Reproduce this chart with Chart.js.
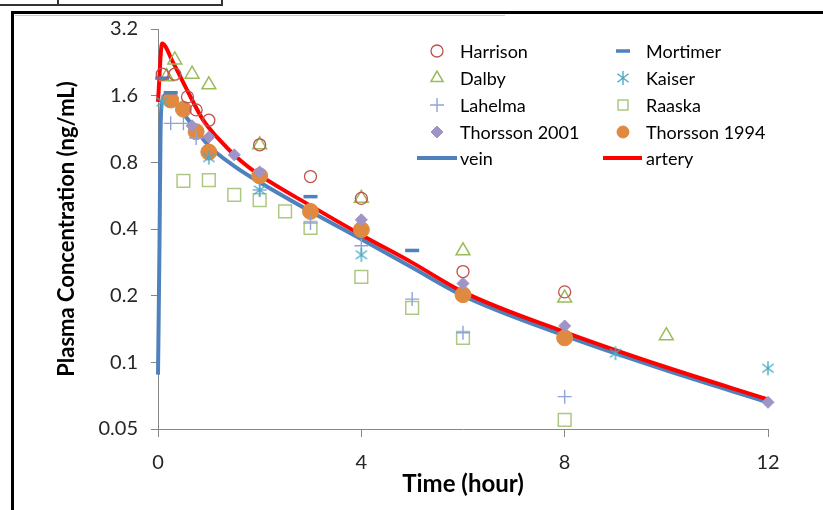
<!DOCTYPE html>
<html>
<head>
<meta charset="utf-8">
<script src="https://cdn.jsdelivr.net/npm/chart.js@4.4.0/dist/chart.umd.min.js"></script>
<style>
  html, body { margin: 0; padding: 0; background: #fff; }
  #wrap { position: relative; width: 823px; height: 510px; overflow: hidden; }
  #wrap canvas { position: absolute; left: 0; top: 0; }
  .ln { position: absolute; background: #000; }
</style>
</head>
<body>
<div id="wrap">
  <div class="ln" style="left:0;top:4px;width:223px;height:2px;background:#333"></div>
  <div class="ln" style="left:57px;top:0;width:2px;height:6px;background:#333"></div>
  <div class="ln" style="left:221px;top:0;width:2px;height:6px;background:#333"></div>
  <div class="ln" style="left:11px;top:11px;width:812px;height:3px"></div>
  <div class="ln" style="left:11px;top:11px;width:3px;height:499px"></div>
  <div class="ln" style="left:15px;top:15px;width:490px;height:1px;background:#ccc"></div>
  <canvas id="chart" width="823" height="510"></canvas>
</div>
<script>
// axis ticks
const timeTicks = [0, 4, 8, 12];
const concTicks = [0.05, 0.1, 0.2, 0.4, 0.8, 1.6, 3.2];

// observed data (time in hours, concentration in ng/mL)
const harrisonTime = [0.083, 0.33, 0.58, 0.75, 1, 2, 3, 4, 6, 8];
const harrisonConc = [2.0, 2.0, 1.58, 1.38, 1.24, 0.96, 0.69, 0.55, 0.257, 0.208];

const mortimerTime = [0.083, 0.25, 3, 5];
const mortimerConc = [1.92, 1.65, 0.56, 0.32];

const dalbyTime = [0.17, 0.33, 0.67, 1, 2, 4, 6, 8, 10];
const dalbyConc = [1.95, 2.32, 2.0, 1.79, 0.96, 0.55, 0.319, 0.195, 0.132];

const kaiserTime = [0.083, 1, 2, 4, 9, 12];
const kaiserConc = [1.5, 0.84, 0.60, 0.306, 0.11, 0.094];

const lahelmaTime = [0.25, 0.5, 0.75, 2, 3, 4, 5, 6, 8];
const lahelmaConc = [1.2, 1.2, 1.03, 0.6, 0.426, 0.336, 0.193, 0.136, 0.07];

const raaskaTime = [0.5, 1, 1.5, 2, 2.5, 3, 4, 5, 6, 8];
const raaskaConc = [0.66, 0.665, 0.57, 0.54, 0.48, 0.405, 0.243, 0.176, 0.129, 0.055];

const thorsson2001Time = [0.67, 1, 1.5, 2, 4, 6, 8, 12];
const thorsson2001Conc = [1.17, 1.04, 0.865, 0.724, 0.44, 0.227, 0.146, 0.066];

const thorsson1994Time = [0.25, 0.5, 0.75, 1, 2, 3, 4, 6, 8];
const thorsson1994Conc = [1.53, 1.39, 1.10, 0.89, 0.695, 0.48, 0.397, 0.202, 0.129];

// simulated curves
const veinTime = [0, 0.03, 0.05, 0.08, 0.17, 0.33, 0.5, 0.75, 1, 1.5, 2, 3, 4, 5, 6, 8, 10, 12];
const veinConc = [0.088, 0.35, 1.1, 1.5, 1.62, 1.5, 1.33, 1.12, 0.95, 0.77, 0.65, 0.48, 0.36, 0.268, 0.2, 0.132, 0.092, 0.066];

const arteryTime = [0, 0.08, 0.3, 0.57, 0.89, 1.16, 1.61, 2, 3, 4, 5, 6, 8, 10, 12];
const arteryConc = [1.5, 2.75, 2.25, 1.7, 1.24, 1.04, 0.82, 0.7, 0.51, 0.376, 0.282, 0.208, 0.137, 0.095, 0.068];

function pts(xs, ys) {
    return xs.map((x, i) => ({ x: x, y: ys[i] }));
}

// Excel style asterisk marker (vertical bar + X)
function makeAsterisk(color, r) {
    const c = document.createElement('canvas');
    const s = r * 2 + 2;
    c.width = s;
    c.height = s;
    const g = c.getContext('2d');
    const m = s / 2;
    const d = r * 0.8;
    g.strokeStyle = color;
    g.lineWidth = 1.4;
    g.beginPath();
    g.moveTo(m, m - r); g.lineTo(m, m + r);
    g.moveTo(m - d, m - d * 0.75); g.lineTo(m + d, m + d * 0.75);
    g.moveTo(m - d, m + d * 0.75); g.lineTo(m + d, m - d * 0.75);
    g.stroke();
    return c;
}
const asterisk = makeAsterisk('#4BACC6', 7);

function markers(label, xs, ys, style, radius, stroke, fill, width) {
    return {
        label: label,
        data: pts(xs, ys),
        pointStyle: style,
        pointRadius: radius,
        pointHoverRadius: radius,
        borderColor: stroke,
        backgroundColor: fill,
        pointBorderWidth: width,
        borderWidth: width,
        showLine: false,
        clip: false,
        order: 0
    };
}

function curve(label, xs, ys, color, order) {
    return {
        label: label,
        data: pts(xs, ys),
        showLine: true,
        borderColor: color,
        backgroundColor: color,
        borderWidth: 4,
        pointRadius: 0,
        cubicInterpolationMode: 'monotone',
        clip: false,
        order: order
    };
}

// legend order: two columns, row by row
const datasets = [
    markers('Harrison', harrisonTime, harrisonConc, 'circle', 6, '#C0504D', 'rgba(0,0,0,0)', 1.3),
    markers('Mortimer', mortimerTime, mortimerConc, 'line', 7, '#4F81BD', '#4F81BD', 3.5),
    markers('Dalby', dalbyTime, dalbyConc, 'triangle', 8, '#9BBB59', 'rgba(0,0,0,0)', 1.5),
    markers('Kaiser', kaiserTime, kaiserConc, asterisk, 7, '#4BACC6', '#4BACC6', 1.4),
    markers('Lahelma', lahelmaTime, lahelmaConc, 'cross', 7, '#8EA4D6', '#8EA4D6', 1.4),
    markers('Raaska', raaskaTime, raaskaConc, 'rect', 9, '#ADC882', 'rgba(0,0,0,0)', 1.5),
    markers('Thorsson 2001', thorsson2001Time, thorsson2001Conc, 'rectRot', 6, '#A093C6', '#A093C6', 1),
    markers('Thorsson 1994', thorsson1994Time, thorsson1994Conc, 'circle', 8, '#DF8A40', '#DF8A40', 1),
    curve('vein', veinTime, veinConc, '#4F81BD', 2),
    curve('artery', arteryTime, arteryConc, '#FF0000', 1)
];

// legend drawn in the plot corner in two columns
const legendMarkerX = [437, 623];
const legendLineX = [[417, 457], [603, 642]];
const legendTextX = [460, 646];
const legendRowY = [51, 78, 105, 132, 158];

const cornerLegend = {
    id: 'cornerLegend',
    afterDraw(chart) {
        const ctx = chart.ctx;
        ctx.save();
        chart.data.datasets.forEach((ds, i) => {
            const col = i % 2;
            const y = legendRowY[Math.floor(i / 2)];
            if (ds.showLine) {
                ctx.strokeStyle = ds.borderColor;
                ctx.lineWidth = ds.borderWidth;
                ctx.beginPath();
                ctx.moveTo(legendLineX[col][0], y);
                ctx.lineTo(legendLineX[col][1], y);
                ctx.stroke();
            } else {
                ctx.strokeStyle = ds.borderColor;
                ctx.fillStyle = ds.backgroundColor;
                ctx.lineWidth = ds.pointBorderWidth;
                Chart.helpers.drawPoint(ctx, {
                    pointStyle: ds.pointStyle,
                    radius: ds.pointStyle === 'circle' ? Math.min(ds.pointRadius, 6) : Math.min(ds.pointRadius, 7),
                    rotation: 0,
                    borderWidth: ds.pointBorderWidth
                }, legendMarkerX[col], y);
            }
            ctx.fillStyle = '#000';
            ctx.font = '18px Lato';
            ctx.textBaseline = 'middle';
            ctx.textAlign = 'left';
            ctx.fillText(ds.label, legendTextX[col], y + 1);
        });
        ctx.restore();
    }
};

const axisColor = '#868686';
const tickFont = { family: 'Lato', size: 20 };

new Chart(document.getElementById('chart'), {
    type: 'scatter',
    data: { datasets: datasets },
    options: {
        responsive: false,
        animation: false,
        events: [],
        layout: { padding: { left: 38, top: 29, right: 55, bottom: 0 } },
        plugins: {
            legend: { display: false },
            tooltip: { enabled: false }
        },
        scales: {
            x: {
                type: 'linear',
                min: 0,
                max: 12,
                afterFit: s => { s.height = 81; },
                afterBuildTicks: a => { a.ticks = timeTicks.map(v => ({ value: v })); },
                grid: { drawOnChartArea: false, drawTicks: true, tickLength: 8, color: axisColor },
                border: { display: true, color: axisColor, width: 1 },
                ticks: { font: tickFont, color: '#262626', padding: 14, maxRotation: 0 },
                title: { display: true, text: 'Time (hour)', font: { family: 'Lato', size: 24, weight: 'bold' }, color: '#000', padding: { top: 0, bottom: 11 } }
            },
            y: {
                type: 'logarithmic',
                min: 0.05,
                max: 3.2,
                afterFit: s => { s.width = 120; },
                afterBuildTicks: a => { a.ticks = concTicks.map(v => ({ value: v })); },
                grid: { drawOnChartArea: false, drawTicks: true, tickLength: 7, color: axisColor },
                border: { display: true, color: axisColor, width: 1 },
                ticks: { font: tickFont, color: '#262626', padding: 13, callback: v => String(v) },
                title: { display: true, text: 'Plasma Concentration (ng/mL)', font: { family: 'Lato', size: 22, weight: 'bold' }, color: '#000', padding: { top: 16, bottom: 0 } }
            }
        }
    },
    plugins: [cornerLegend]
});
</script>
</body>
</html>
